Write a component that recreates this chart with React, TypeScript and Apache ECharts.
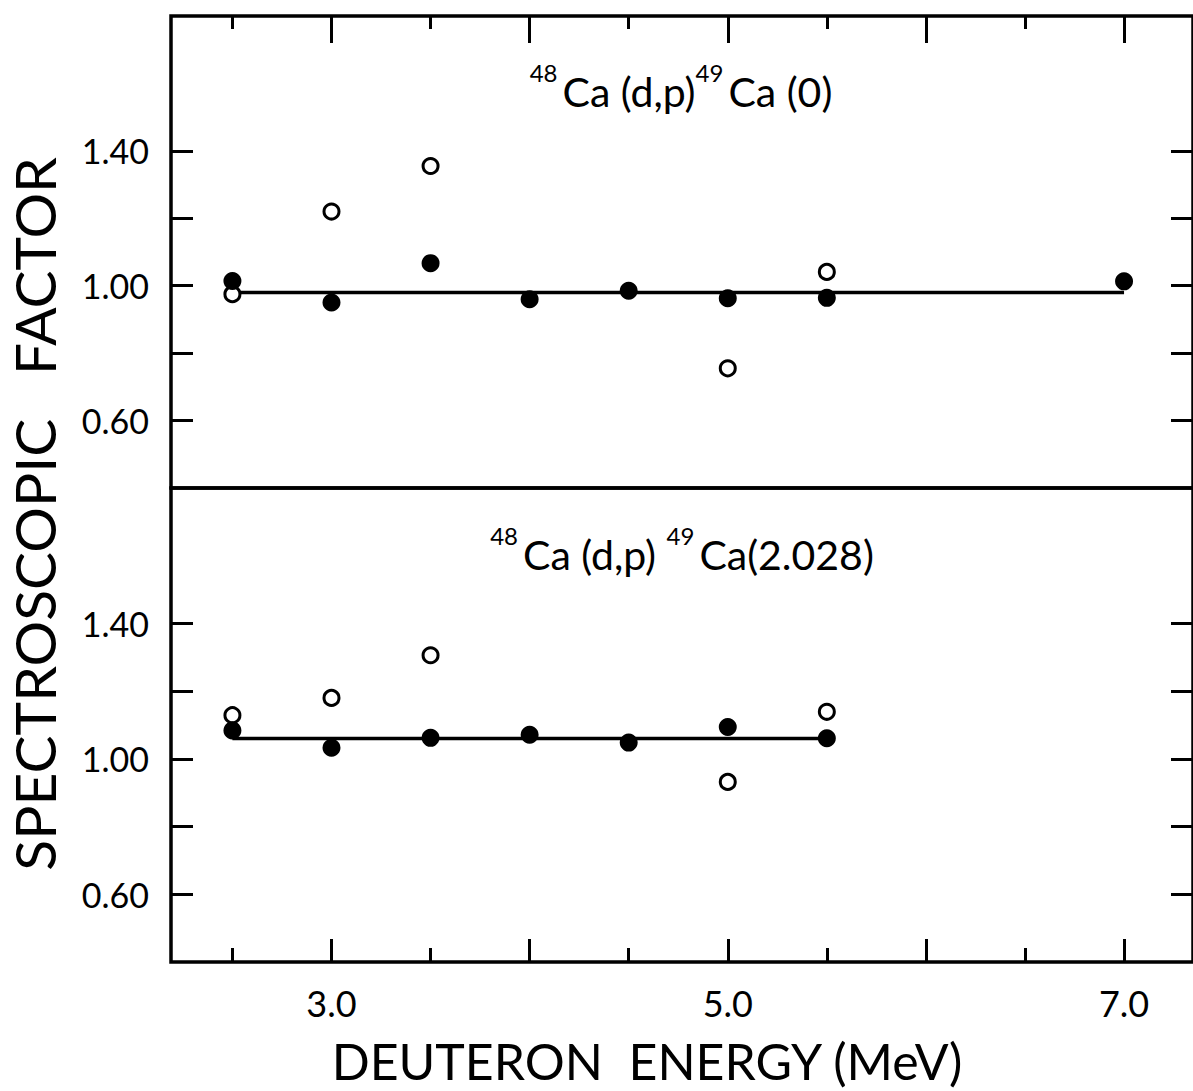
import React, { useEffect, useRef } from "react";
import * as echarts from "echarts";

// Ground state, 48Ca(d,p)49Ca(0)
const groundFilledEnergy = [2.5, 3.0, 3.5, 4.0, 4.5, 5.0, 5.5, 7.0];
const groundFilledS = [1.014, 0.95, 1.067, 0.96, 0.985, 0.963, 0.964, 1.013];
const groundOpenEnergy = [2.5, 3.0, 3.5, 5.0, 5.5];
const groundOpenS = [0.975, 1.22, 1.355, 0.755, 1.041];
const groundFitEnergy = [2.5, 7.0];
const groundFitS = [0.98, 0.98];

// Excited state, 48Ca(d,p)49Ca(2.028)
const excitedFilledEnergy = [2.5, 3.0, 3.5, 4.0, 4.5, 5.0, 5.5];
const excitedFilledS = [1.084, 1.033, 1.062, 1.071, 1.048, 1.094, 1.061];
const excitedOpenEnergy = [2.5, 3.0, 3.5, 5.0, 5.5];
const excitedOpenS = [1.129, 1.18, 1.306, 0.932, 1.139];
const excitedFitEnergy = [2.5, 5.5];
const excitedFitS = [1.06, 1.06];

// Axis ticks and labels
const yTickValues = [0.6, 0.8, 1.0, 1.2, 1.4];
const yLabelValues = [0.6, 1.0, 1.4];
const xMajorTicks = [3, 4, 5, 6, 7];
const xMinorTicks = [2.5, 3.5, 4.5, 5.5, 6.5];
const xLabelValues = [3, 5, 7];

const X_MIN = 2.19;
const X_MAX = 7.348;
const Y_MIN = 0.4;
const Y_MAX = 1.8;

const FONT = "Lato, 'Noto Sans', sans-serif";
const INK = "#000";

const zip = (xs: number[], ys: number[]) => xs.map((x, i) => [x, ys[i]]);

function xAxis(gridIndex: number, position: string, ticks: number[], length: number, labels?: number[]) {
  return {
    type: "value",
    gridIndex,
    position,
    min: X_MIN,
    max: X_MAX,
    axisLine: { show: false },
    splitLine: { show: false },
    axisTick: {
      show: true,
      inside: true,
      length,
      customValues: ticks,
      lineStyle: { color: INK, width: 3 },
    },
    axisLabel: labels
      ? {
          show: true,
          customValues: labels,
          formatter: (v: number) => v.toFixed(1),
          fontSize: 36,
          color: INK,
          fontFamily: FONT,
          margin: 23,
        }
      : { show: false },
  };
}

function yAxis(gridIndex: number, position: string, withLabels: boolean) {
  return {
    type: "value",
    gridIndex,
    position,
    min: Y_MIN,
    max: Y_MAX,
    axisLine: { show: false },
    splitLine: { show: false },
    axisTick: {
      show: true,
      inside: true,
      length: 22,
      customValues: yTickValues,
      lineStyle: { color: INK, width: 3 },
    },
    axisLabel: withLabels
      ? {
          show: true,
          customValues: yLabelValues,
          formatter: (v: number) => v.toFixed(2),
          fontSize: 34,
          color: INK,
          fontFamily: FONT,
          margin: 22,
        }
      : { show: false },
  };
}

function panelSeries(
  axisIndex: number,
  fitX: number[],
  fitY: number[],
  openX: number[],
  openY: number[],
  filledX: number[],
  filledY: number[]
) {
  return [
    {
      type: "line",
      xAxisIndex: axisIndex,
      yAxisIndex: axisIndex,
      data: zip(fitX, fitY),
      symbol: "none",
      lineStyle: { color: INK, width: 3.5 },
      z: 2,
    },
    {
      type: "scatter",
      xAxisIndex: axisIndex,
      yAxisIndex: axisIndex,
      data: zip(openX, openY),
      symbol: "circle",
      symbolSize: 15,
      itemStyle: { color: "#fff", borderColor: INK, borderWidth: 3, opacity: 1 },
      z: 3,
    },
    {
      type: "scatter",
      xAxisIndex: axisIndex,
      yAxisIndex: axisIndex,
      data: zip(filledX, filledY),
      symbol: "circle",
      symbolSize: 18,
      itemStyle: { color: INK, opacity: 1 },
      z: 4,
    },
  ];
}

const reactionRich = {
  sup: { fontSize: 24, fontFamily: FONT, fill: INK, verticalAlign: "top", lineHeight: 24, padding: [0, 5, 0, 0] },
  main: { fontSize: 41, fontFamily: FONT, fill: INK, verticalAlign: "bottom", lineHeight: 52 },
};

function buildOption() {
  return {
    animation: false,
    backgroundColor: "#fff",
    grid: [
      { left: 171, top: 16, width: 1027, height: 472, show: true, borderColor: INK, borderWidth: 3.5 },
      { left: 171, top: 488, width: 1027, height: 474, show: true, borderColor: INK, borderWidth: 3.5 },
    ],
    xAxis: [
      xAxis(0, "top", xMajorTicks, 27),
      xAxis(1, "bottom", xMajorTicks, 23, xLabelValues),
      xAxis(0, "top", xMinorTicks, 13),
      xAxis(1, "bottom", xMinorTicks, 14),
    ],
    yAxis: [
      yAxis(0, "left", true),
      yAxis(1, "left", true),
      yAxis(0, "right", false),
      yAxis(1, "right", false),
    ],
    series: [
      ...panelSeries(0, groundFitEnergy, groundFitS, groundOpenEnergy, groundOpenS, groundFilledEnergy, groundFilledS),
      ...panelSeries(1, excitedFitEnergy, excitedFitS, excitedOpenEnergy, excitedOpenS, excitedFilledEnergy, excitedFilledS),
    ],
    graphic: [
      {
        type: "text",
        x: 681,
        y: 86,
        style: {
          text: "{sup|48}{main|Ca (d,p)}{sup|49}{main|Ca (0)}",
          rich: reactionRich,
          align: "center",
          verticalAlign: "middle",
        },
      },
      {
        type: "text",
        x: 682,
        y: 549,
        style: {
          text: "{sup|48}{main|Ca (d,p) }{sup|49}{main|Ca(2.028)}",
          rich: reactionRich,
          align: "center",
          verticalAlign: "middle",
        },
      },
      {
        type: "text",
        x: 34,
        y: 514,
        rotation: Math.PI / 2,
        style: {
          text: "SPECTROSCOPIC   FACTOR",
          fontSize: 57,
          fontFamily: FONT,
          fill: INK,
          align: "center",
          verticalAlign: "middle",
        },
      },
      {
        type: "text",
        x: 647,
        y: 1061,
        style: {
          text: "DEUTERON  ENERGY (MeV)",
          fontSize: 50,
          fontFamily: FONT,
          fill: INK,
          align: "center",
          verticalAlign: "middle",
        },
      },
    ],
  };
}

export default function App() {
  const ref = useRef<HTMLDivElement>(null);
  useEffect(() => {
    if (!ref.current) return;
    const chart = echarts.init(ref.current, null, { renderer: "svg" });
    chart.setOption(buildOption() as any);
    return () => chart.dispose();
  }, []);
  return (
    <div
      ref={ref}
      style={{ position: "absolute", left: 0, top: 0, width: 1193, height: 1091, background: "#fff" }}
    />
  );
}
